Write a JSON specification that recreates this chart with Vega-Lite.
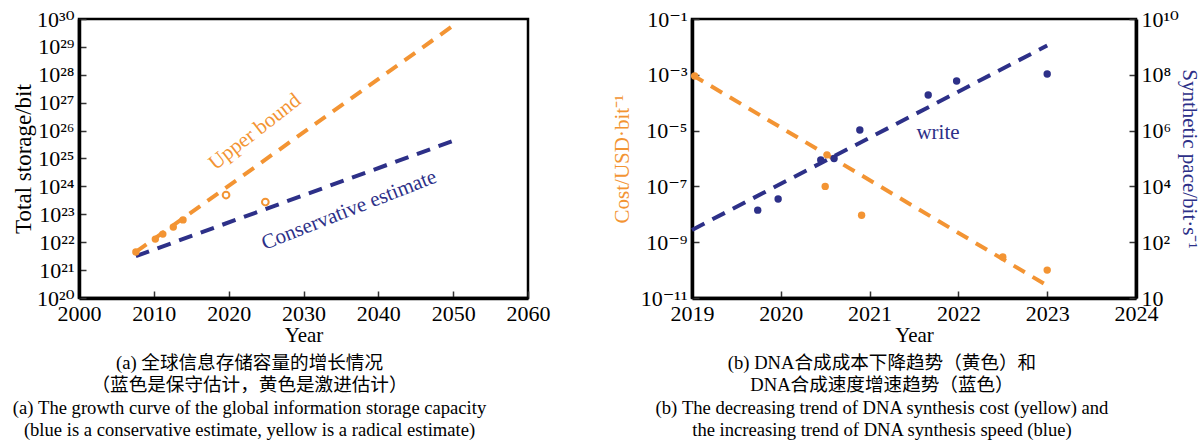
{
  "$schema": "https://vega.github.io/schema/vega-lite/v6.json",
  "padding": {"left": 11, "top": 6, "right": 4, "bottom": 0},
  "background": "white",
  "config": {
    "font": "Liberation Serif",
    "view": {"stroke": "black", "strokeWidth": 2.5},
    "axis": {
      "grid": false,
      "labelFont": "'Liberation Serif', 'DejaVu Serif'",
      "labelFontSize": 22,
      "labelColor": "black",
      "titleFont": "Liberation Serif",
      "titleFontSize": 21,
      "titleFontWeight": "normal",
      "titleColor": "black",
      "domainColor": "black",
      "domainWidth": 3.5,
      "tickColor": "#333",
      "tickWidth": 1.5,
      "tickSize": -7,
      "labelPadding": 12
    },
    "title": {"font": "Liberation Serif, 'Noto Sans CJK SC'", "fontWeight": "normal", "color": "black"}
  },
  "datasets": {
    "upperLine": [{"year": 2007.6, "bits": 4.47e21}, {"year": 2050.3, "bits": 6.6e29}],
    "consLine": [{"year": 2007.6, "bits": 3.16e21}, {"year": 2050.3, "bits": 4.57e25}],
    "upperDots": [
      {"year": 2007.6, "bits": 4.47e21},
      {"year": 2010.2, "bits": 1.29e22},
      {"year": 2011.2, "bits": 1.95e22},
      {"year": 2012.6, "bits": 3.47e22},
      {"year": 2013.9, "bits": 6.3e22}
    ],
    "openDots": [
      {"year": 2019.65, "bits": 4.9e23},
      {"year": 2024.9, "bits": 2.75e23}
    ],
    "leftLabels": [
      {"year": 2023.5, "bits": 8.9e25, "label": "Upper bound", "series": "upper"},
      {"year": 2036.1, "bits": 1.4e23, "label": "Conservative estimate", "series": "cons"}
    ],
    "costLine": [{"year": 2019.0, "cost": 1e-3}, {"year": 2023.0, "cost": 2.8e-11}],
    "costDots": [
      {"year": 2019.03, "cost": 9.1e-4},
      {"year": 2020.52, "cost": 1.35e-6},
      {"year": 2020.5, "cost": 1.0e-7},
      {"year": 2020.91, "cost": 9.3e-9},
      {"year": 2022.5, "cost": 2.95e-10},
      {"year": 2023.0, "cost": 1.0e-10}
    ],
    "speedLine": [{"year": 2019.0, "speed": 275}, {"year": 2023.0, "speed": 1.12e9}],
    "speedDots": [
      {"year": 2019.74, "speed": 1410},
      {"year": 2019.97, "speed": 3550},
      {"year": 2020.45, "speed": 89000},
      {"year": 2020.6, "speed": 100000},
      {"year": 2020.89, "speed": 1050000},
      {"year": 2021.66, "speed": 19000000},
      {"year": 2021.98, "speed": 60000000},
      {"year": 2023.0, "speed": 107000000}
    ],
    "writeLabel": [{"year": 2021.77, "speed": 810000, "label": "write"}]
  },
  "hconcat": [
    {
      "width": 449,
      "height": 279,
      "title": {
        "text": ["(a) 全球信息存储容量的增长情况", "（蓝色是保守估计，黄色是激进估计）", "(a) The growth curve of the global information storage capacity", "(blue is a conservative estimate, yellow is a radical estimate)"],
        "orient": "bottom", "anchor": "middle", "dx": -54, "fontSize": 18.6, "lineHeight": 22.3, "offset": 9
      },
      "encoding": {
        "x": {
          "field": "year", "type": "quantitative",
          "scale": {"domain": [2000, 2060], "nice": false, "zero": false},
          "axis": {"values": [2000, 2010, 2020, 2030, 2040, 2050, 2060], "format": "d", "title": "Year", "titlePadding": 0, "labelFlush": false}
        },
        "y": {
          "field": "bits", "type": "quantitative",
          "scale": {"type": "log", "domain": [1e20, 1e30], "nice": false},
          "axis": {
            "values": [1e20, 1e21, 1e22, 1e23, 1e24, 1e25, 1e26, 1e27, 1e28, 1e29, 1e30],
            "labelExpr": "['10²⁰','10²¹','10²²','10²³','10²⁴','10²⁵','10²⁶','10²⁷','10²⁸','10²⁹','10³⁰'][round(log(datum.value)/LN10)-20]",
            "title": "Total storage/bit", "titleFontSize": 23, "titlePadding": 1, "labelFlush": false
          }
        }
      },
      "layer": [
        {"data": {"name": "upperLine"}, "mark": {"type": "line", "color": "#F39433", "strokeWidth": 4, "strokeDash": [13, 9]}},
        {"data": {"name": "consLine"}, "mark": {"type": "line", "color": "#2D3088", "strokeWidth": 4, "strokeDash": [14, 9]}},
        {"data": {"name": "upperDots"}, "mark": {"type": "circle", "color": "#F39433", "size": 55, "opacity": 1}},
        {"data": {"name": "openDots"}, "mark": {"type": "point", "color": "#F39433", "size": 45, "strokeWidth": 2, "filled": false, "opacity": 1}},
        {"data": {"name": "leftLabels"}, "transform": [{"filter": "datum.series == 'upper'"}], "mark": {"type": "text", "color": "#F39433", "fontSize": 21, "angle": 322, "font": "Liberation Serif"}, "encoding": {"text": {"field": "label"}}},
        {"data": {"name": "leftLabels"}, "transform": [{"filter": "datum.series == 'cons'"}], "mark": {"type": "text", "color": "#2D3088", "fontSize": 21, "angle": 338.5, "font": "Liberation Serif"}, "encoding": {"text": {"field": "label"}}}
      ]
    },
    {
      "width": 444,
      "height": 279,
      "title": {
        "text": ["(b) DNA合成成本下降趋势（黄色）和", "DNA合成速度增速趋势（蓝色）", "(b) The decreasing trend of DNA synthesis cost (yellow) and", "the increasing trend of DNA synthesis speed (blue)"],
        "orient": "bottom", "anchor": "middle", "dx": -32, "fontSize": 18.6, "lineHeight": 22.3, "offset": 9
      },
      "encoding": {
        "x": {
          "field": "year", "type": "quantitative",
          "scale": {"domain": [2019, 2024], "nice": false, "zero": false},
          "axis": {"values": [2019, 2020, 2021, 2022, 2023, 2024], "format": "d", "title": "Year", "titlePadding": 0, "labelFlush": false}
        }
      },
      "layer": [
        {
          "encoding": {
            "y": {
              "field": "cost", "type": "quantitative",
              "scale": {"type": "log", "domain": [1e-11, 1e-1], "nice": false},
              "axis": {
                "orient": "left",
                "values": [1e-11, 1e-9, 1e-7, 1e-5, 1e-3, 1e-1],
                "labelExpr": "['10⁻¹¹','10⁻¹⁰','10⁻⁹','10⁻⁸','10⁻⁷','10⁻⁶','10⁻⁵','10⁻⁴','10⁻³','10⁻²','10⁻¹'][round(log(datum.value)/LN10)+11]",
                "title": "Cost/USD·bit⁻¹", "titleColor": "#F39433", "titlePadding": 8, "labelFlush": false
              }
            }
          },
          "layer": [
            {"data": {"name": "costLine"}, "mark": {"type": "line", "color": "#F39433", "strokeWidth": 4, "strokeDash": [13, 9]}},
            {"data": {"name": "costDots"}, "mark": {"type": "circle", "color": "#F39433", "size": 55, "opacity": 1}}
          ]
        },
        {
          "encoding": {
            "y": {
              "field": "speed", "type": "quantitative",
              "scale": {"type": "log", "domain": [1, 1e10], "nice": false},
              "axis": {
                "orient": "right",
                "values": [1, 100, 10000, 1000000, 100000000, 10000000000],
                "labelExpr": "['10','10¹','10²','10³','10⁴','10⁵','10⁶','10⁷','10⁸','10⁹','10¹⁰'][round(log(datum.value)/LN10)]",
                "title": "Synthetic pace/bit·s⁻¹", "titleColor": "#2D3088", "titlePadding": 0, "labelFlush": false
              }
            }
          },
          "layer": [
            {"data": {"name": "speedLine"}, "mark": {"type": "line", "color": "#2D3088", "strokeWidth": 4, "strokeDash": [14, 9]}},
            {"data": {"name": "speedDots"}, "mark": {"type": "circle", "color": "#2D3088", "size": 55, "opacity": 1}},
            {"data": {"name": "writeLabel"}, "mark": {"type": "text", "color": "#2D3088", "fontSize": 21, "font": "Liberation Serif"}, "encoding": {"text": {"field": "label"}}}
          ]
        }
      ],
      "resolve": {"scale": {"y": "independent"}}
    }
  ],
  "spacing": 57
}
